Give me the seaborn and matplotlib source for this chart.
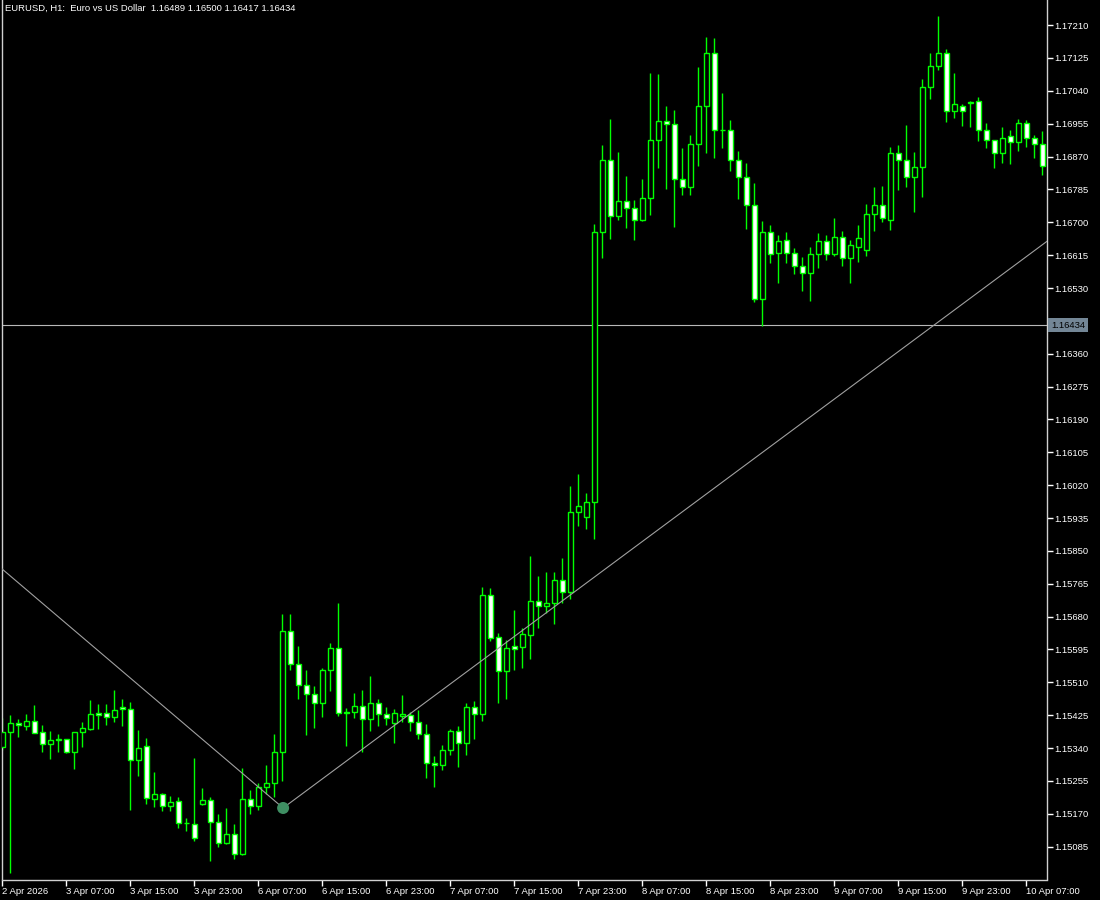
import matplotlib
matplotlib.use('Agg')
import matplotlib.pyplot as plt
import matplotlib.transforms as mtransforms
import numpy as np
import pandas as pd
import seaborn as sns

title = "EURUSD, H1:  Euro vs US Dollar  1.16489 1.16500 1.16417 1.16434"
bid = 1.16434

time_labels = ['2 Apr 2026', '3 Apr 07:00', '3 Apr 15:00', '3 Apr 23:00', '6 Apr 07:00',
               '6 Apr 15:00', '6 Apr 23:00', '7 Apr 07:00', '7 Apr 15:00', '7 Apr 23:00',
               '8 Apr 07:00', '8 Apr 15:00', '8 Apr 23:00', '9 Apr 07:00', '9 Apr 15:00',
               '9 Apr 23:00', '10 Apr 07:00']
label_bars = [0, 8, 16, 24, 32, 40, 48, 56, 64, 72, 80, 88, 96, 104, 112, 120, 128]

price_labels = ['1.17210', '1.17125', '1.17040', '1.16955', '1.16870', '1.16785', '1.16700',
                '1.16615', '1.16530', '1.16445', '1.16360', '1.16275', '1.16190', '1.16105',
                '1.16020', '1.15935', '1.15850', '1.15765', '1.15680', '1.15595', '1.15510',
                '1.15425', '1.15340', '1.15255', '1.15170', '1.15085']

# hourly bars, 2 Apr 23:00 .. 10 Apr 09:00
opens = [1.15344, 1.15382, 1.15404, 1.15398, 1.15409, 1.15381, 1.15350, 1.15360, 1.15363, 1.15329,
         1.15381, 1.15390, 1.15430, 1.15430, 1.15421, 1.15446, 1.15440, 1.15308, 1.15345, 1.15209,
         1.15220, 1.15190, 1.15202, 1.15146, 1.15143, 1.15195, 1.15205, 1.15148, 1.15094, 1.15117,
         1.15065, 1.15208, 1.15190, 1.15240, 1.15250, 1.15329, 1.15642, 1.15558, 1.15502, 1.15479,
         1.15456, 1.15542, 1.15598, 1.15434, 1.15434, 1.15448, 1.15415, 1.15456, 1.15427, 1.15404,
         1.15424, 1.15426, 1.15407, 1.15376, 1.15302, 1.15296, 1.15334, 1.15383, 1.15352, 1.15446,
         1.15427, 1.15735, 1.15628, 1.15540, 1.15603, 1.15602, 1.15633, 1.15720, 1.15708, 1.15714,
         1.15774, 1.15744, 1.15950, 1.15937, 1.15976, 1.16676, 1.16860, 1.16715, 1.16754, 1.16736,
         1.16705, 1.16764, 1.16912, 1.16961, 1.16953, 1.16811, 1.16792, 1.16902, 1.17000, 1.17137,
         1.16940, 1.16940, 1.16860, 1.16816, 1.16746, 1.16501, 1.16676, 1.16620, 1.16653, 1.16620,
         1.16586, 1.16570, 1.16617, 1.16651, 1.16617, 1.16661, 1.16607, 1.16635, 1.16628, 1.16721,
         1.16744, 1.16707, 1.16878, 1.16860, 1.16816, 1.16842, 1.17051, 1.17103, 1.17139, 1.16987,
         1.17002, 1.17008, 1.17015, 1.16938, 1.16912, 1.16878, 1.16922, 1.16907, 1.16956, 1.16917,
         1.16902]
highs = [1.15418, 1.15426, 1.15415, 1.15428, 1.15451, 1.15400, 1.15384, 1.15377, 1.15364, 1.15382,
         1.15408, 1.15464, 1.15454, 1.15454, 1.15490, 1.15467, 1.15458, 1.15387, 1.15365, 1.15277,
         1.15223, 1.15217, 1.15213, 1.15158, 1.15314, 1.15236, 1.15214, 1.15170, 1.15184, 1.15143,
         1.15288, 1.15232, 1.15249, 1.15296, 1.15376, 1.15687, 1.15686, 1.15604, 1.15542, 1.15501,
         1.15546, 1.15611, 1.15714, 1.15443, 1.15482, 1.15490, 1.15526, 1.15467, 1.15447, 1.15441,
         1.15477, 1.15433, 1.15439, 1.15402, 1.15320, 1.15348, 1.15389, 1.15397, 1.15457, 1.15463,
         1.15757, 1.15754, 1.15637, 1.15620, 1.15697, 1.15650, 1.15837, 1.15785, 1.15795, 1.15795,
         1.15832, 1.16018, 1.16049, 1.15999, 1.16695, 1.16900, 1.16967, 1.16882, 1.16821, 1.16757,
         1.16812, 1.17086, 1.17083, 1.17001, 1.16990, 1.16893, 1.16926, 1.17101, 1.17179, 1.17176,
         1.17034, 1.16964, 1.16884, 1.16853, 1.16801, 1.16703, 1.16693, 1.16666, 1.16675, 1.16633,
         1.16610, 1.16637, 1.16672, 1.16667, 1.16711, 1.16677, 1.16654, 1.16693, 1.16747, 1.16791,
         1.16794, 1.16894, 1.16900, 1.16951, 1.16882, 1.17070, 1.17138, 1.17233, 1.17147, 1.17086,
         1.17005, 1.17013, 1.17023, 1.16958, 1.16914, 1.16947, 1.16940, 1.16966, 1.16964, 1.16926,
         1.16936]
lows = [1.15335, 1.15018, 1.15369, 1.15387, 1.15378, 1.15331, 1.15312, 1.15331, 1.15327, 1.15286,
        1.15344, 1.15387, 1.15389, 1.15400, 1.15408, 1.15398, 1.15180, 1.15269, 1.15195, 1.15188,
        1.15176, 1.15176, 1.15132, 1.15126, 1.15099, 1.15194, 1.15049, 1.15083, 1.15093, 1.15052,
        1.15063, 1.15169, 1.15180, 1.15221, 1.15214, 1.15255, 1.15542, 1.15467, 1.15374, 1.15393,
        1.15421, 1.15488, 1.15424, 1.15346, 1.15417, 1.15331, 1.15385, 1.15398, 1.15400, 1.15354,
        1.15408, 1.15385, 1.15363, 1.15263, 1.15240, 1.15283, 1.15321, 1.15292, 1.15321, 1.15364,
        1.15411, 1.15618, 1.15457, 1.15467, 1.15542, 1.15548, 1.15570, 1.15651, 1.15690, 1.15662,
        1.15714, 1.15725, 1.15915, 1.15907, 1.15881, 1.16608, 1.16657, 1.16706, 1.16686, 1.16654,
        1.16704, 1.16719, 1.16841, 1.16786, 1.16688, 1.16770, 1.16770, 1.16845, 1.16880, 1.16867,
        1.16893, 1.16833, 1.16760, 1.16682, 1.16494, 1.16433, 1.16595, 1.16544, 1.16595, 1.16565,
        1.16521, 1.16497, 1.16582, 1.16602, 1.16613, 1.16588, 1.16542, 1.16597, 1.16613, 1.16678,
        1.16701, 1.16680, 1.16783, 1.16792, 1.16727, 1.16766, 1.17018, 1.17095, 1.16960, 1.16970,
        1.16950, 1.16947, 1.16910, 1.16893, 1.16841, 1.16854, 1.16851, 1.16885, 1.16895, 1.16867,
        1.16823]
closes = [1.15382, 1.15404, 1.15399, 1.15409, 1.15380, 1.15350, 1.15360, 1.15363, 1.15329, 1.15381,
          1.15391, 1.15428, 1.15426, 1.15421, 1.15438, 1.15440, 1.15308, 1.15339, 1.15210, 1.15221,
          1.15190, 1.15201, 1.15146, 1.15145, 1.15107, 1.15205, 1.15148, 1.15094, 1.15117, 1.15065,
          1.15208, 1.15190, 1.15240, 1.15250, 1.15329, 1.15642, 1.15558, 1.15502, 1.15479, 1.15456,
          1.15542, 1.15598, 1.15430, 1.15430, 1.15448, 1.15415, 1.15456, 1.15427, 1.15417, 1.15430,
          1.15427, 1.15407, 1.15376, 1.15301, 1.15296, 1.15334, 1.15383, 1.15352, 1.15446, 1.15427,
          1.15735, 1.15624, 1.15540, 1.15598, 1.15597, 1.15635, 1.15720, 1.15708, 1.15714, 1.15774,
          1.15744, 1.15950, 1.15966, 1.15976, 1.16674, 1.16860, 1.16715, 1.16754, 1.16736, 1.16705,
          1.16762, 1.16912, 1.16961, 1.16953, 1.16811, 1.16792, 1.16902, 1.17000, 1.17139, 1.16940,
          1.16939, 1.16860, 1.16816, 1.16746, 1.16501, 1.16676, 1.16617, 1.16651, 1.16620, 1.16586,
          1.16570, 1.16617, 1.16651, 1.16617, 1.16661, 1.16607, 1.16640, 1.16659, 1.16721, 1.16744,
          1.16710, 1.16878, 1.16860, 1.16816, 1.16842, 1.17051, 1.17103, 1.17139, 1.16987, 1.17005,
          1.16987, 1.17010, 1.16938, 1.16912, 1.16878, 1.16917, 1.16907, 1.16956, 1.16917, 1.16902,
          1.16845]

# drawn trend lines (bar index, price) and the pivot marker
trend_bars = [-0.3, 35.1, 130.6]
trend_prices = [1.15808, 1.15185, 1.16651]
pivot_bar = 35.1
pivot_price = 1.15185

df = pd.DataFrame({'open': opens, 'high': highs, 'low': lows, 'close': closes})
df['bar'] = np.arange(len(df))
up = df['close'] >= df['open']

sns.set_theme(style='dark', rc={'axes.facecolor': 'black', 'figure.facecolor': 'black'})
plt.rcParams['font.family'] = ['Liberation Sans', 'DejaVu Sans']

fig = plt.figure(figsize=(11, 9), dpi=100, facecolor='black')
ax = fig.add_axes([2 / 1100, 20.5 / 900, 1045 / 1100, 879.5 / 900])
ax.set_facecolor('black')
ax.grid(False)

green = '#00ff00'
ax.axhline(bid, color='#b8b8b8', linewidth=0.8, zorder=1)
ax.vlines(df['bar'], df['low'], df['high'], color=green, linewidth=1, zorder=2)
bottoms = df[['open', 'close']].min(axis=1)
heights = (df['close'] - df['open']).abs().clip(lower=0.000002)
ax.bar(df['bar'], heights, bottom=bottoms, width=0.56,
       color=np.where(up, 'black', 'white'), edgecolor=green, linewidth=1, zorder=3)

sns.lineplot(x=trend_bars, y=trend_prices, sort=False, color='#a0a0a0', linewidth=0.8,
             ax=ax, zorder=4)
sns.scatterplot(x=[pivot_bar], y=[pivot_price], s=75, color='#3f8f63', edgecolor='none',
                ax=ax, zorder=5)

ax.set_xlim(-0.04, 130.59)
ax.set_ylim(1.15000, 1.17275)

ax.yaxis.tick_right()
ax.set_yticks([float(p) for p in price_labels])
ax.set_yticklabels(price_labels)
ax.set_xticks(label_bars)
ax.set_xticklabels(time_labels)
for lab in ax.get_xticklabels():
    lab.set_horizontalalignment('left')
ax.tick_params(axis='both', colors='white', direction='out', length=4, width=1,
               labelsize=6.8, pad=1.5, bottom=True, right=True, left=False)
ax.set_xlabel('')
ax.set_ylabel('')

for side in ['left', 'bottom', 'right']:
    ax.spines[side].set_color('#d0d0d0')
    ax.spines[side].set_linewidth(1)
ax.spines['top'].set_visible(False)

# bid price tag on the price scale, drawn over the tick label it hides
trans = mtransforms.blended_transform_factory(ax.transAxes, ax.transData)
ax.text(1.0 + 4 / 1045, bid, '1.16434', transform=trans, fontsize=6.8, color='black',
        va='center', ha='left', clip_on=False, zorder=10,
        bbox=dict(boxstyle='square,pad=0.3', facecolor='#738696', edgecolor='none'))

fig.text(5 / 1100, 1 - 8 / 900, title, color='white', fontsize=6.8, va='center', ha='left')

fig.savefig('out.png', dpi=100, facecolor='black')
